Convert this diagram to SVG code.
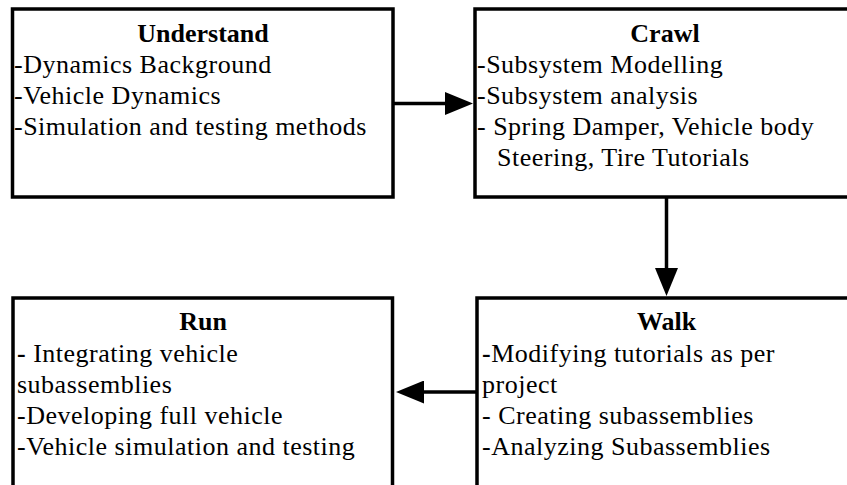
<svg xmlns="http://www.w3.org/2000/svg" width="847" height="485" viewBox="0 0 847 485">
<style>
.box{fill:#fff;stroke:#000;stroke-width:3.5}
.t{font-family:"Liberation Serif","Times New Roman",serif;font-size:26px;fill:#000;letter-spacing:0.5px}
.h{font-weight:bold;text-anchor:middle;letter-spacing:0}
.c{stroke:#000;stroke-width:3.5;fill:none;marker-end:url(#ah)}
</style>
<defs>
<marker id="ah" viewBox="0 0 29 23" refX="1" refY="11.5" markerWidth="29" markerHeight="23" markerUnits="userSpaceOnUse" orient="auto">
<path d="M1,0 L29,11.5 L1,23 Z" fill="#000"/>
</marker>
</defs>
<rect width="847" height="485" fill="#fff"/>
<g id="understand">
<rect class="box" x="12.5" y="9" width="380.5" height="188"/>
<text class="t h" x="203" y="42">Understand</text>
<text class="t" x="14" y="73">-Dynamics Background</text>
<text class="t" x="14" y="104">-Vehicle Dynamics</text>
<text class="t" x="14" y="135">-Simulation and testing methods</text>
</g>
<g id="crawl">
<rect class="box" x="475" y="9" width="380.5" height="188"/>
<text class="t h" x="665" y="42">Crawl</text>
<text class="t" x="477" y="73">-Subsystem Modelling</text>
<text class="t" x="477" y="104">-Subsystem analysis</text>
<text class="t" x="477" y="135">- Spring Damper, Vehicle body</text>
<text class="t" x="497" y="166">Steering, Tire Tutorials</text>
</g>
<g id="walk">
<rect class="box" x="477" y="298" width="380.5" height="190"/>
<text class="t h" x="666.5" y="330">Walk</text>
<text class="t" x="482" y="362"><tspan font-weight="bold">-</tspan>Modifying tutorials as per</text>
<text class="t" x="482" y="393">project</text>
<text class="t" x="482" y="424">- Creating subassemblies</text>
<text class="t" x="482" y="455">-Analyzing Subassemblies</text>
</g>
<g id="run">
<rect class="box" x="13" y="298" width="379.5" height="190"/>
<text class="t h" x="203" y="330">Run</text>
<text class="t" x="17" y="362"><tspan font-weight="bold">-</tspan> Integrating vehicle</text>
<text class="t" x="17" y="393">subassemblies</text>
<text class="t" x="17" y="424">-Developing full vehicle</text>
<text class="t" x="17" y="455">-Vehicle simulation and testing</text>
</g>
<g id="connectors">
<line class="c" x1="394" y1="103.5" x2="445" y2="103.5"/>
<line class="c" x1="666.5" y1="198" x2="666.5" y2="268"/>
<line class="c" x1="476" y1="392" x2="424" y2="392"/>
</g>
</svg>
